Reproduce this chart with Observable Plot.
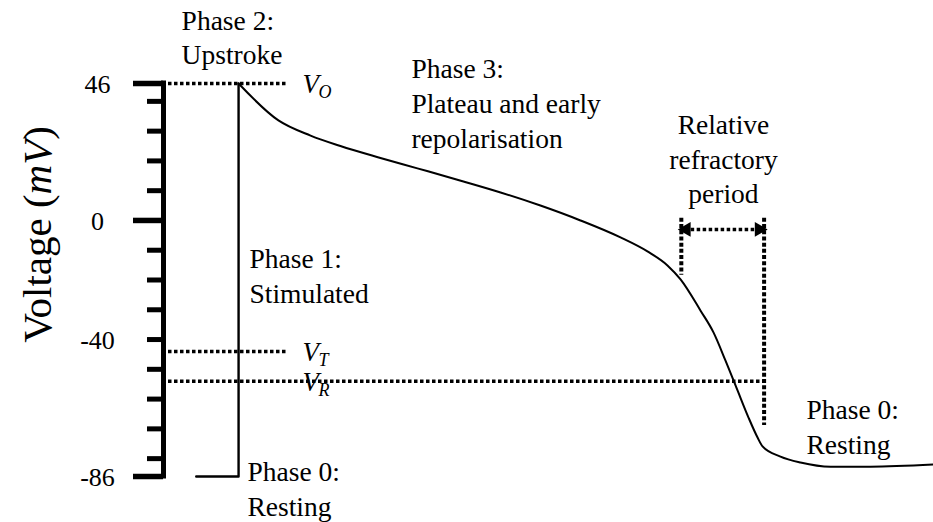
<!DOCTYPE html>
<html><head><meta charset="utf-8">
<script src="https://cdn.jsdelivr.net/npm/d3@7"></script>
<script src="https://cdn.jsdelivr.net/npm/@observablehq/plot@0.6"></script>
<style>
html,body{margin:0;padding:0;background:#fff;}
#chart svg{display:block;}
#chart svg text{font-family:"Liberation Serif", "Times New Roman", serif;}
</style></head><body><div id="chart"></div>
<script>
// Action potential trace (time in arbitrary ms units, voltage in mV)
const time    = [17, 39, 39, 59.7, 76.4, 91.9, 112.7, 131.9, 155.8, 175.1, 195.8, 216.6, 237.4, 251.4, 261.8, 268.6, 279, 285.7, 291.9, 298.2, 303.9, 308.6, 311.2, 320.5, 330.9, 346.5, 367.3, 400];
const voltage = [-86, -86, 46, 33.6, 28.5, 25.0, 21.0, 17.5, 13.1, 9.4, 5.0, 0.0, -5.7, -10.4, -15.1, -19.8, -30.3, -37.6, -47.0, -57.1, -66.2, -72.9, -75.9, -79.3, -81.3, -82.7, -82.7, -82.0];

const majorTicks = [46, 0, -86];
const minorTicks = [40, 30, 20, 10, -10, -20, -30, -40, -50, -60, -70, -80];
const tickLabels = [46, 0, -40, -86];

// threshold levels
const levelNames = ["O", "T", "R"];
const levelValues = [46, -44, -54];
const levelEnds = [64, 64, 313];

// relative refractory period
const refractoryStart = 269;
const refractoryEnd = 312;

const trace = time.map((t, i) => ({t, v: voltage[i]}));
const upstroke = trace.slice(0, 3);
const plateau = trace.slice(2);
const levels = levelNames.map((name, i) => ({name, v: levelValues[i], end: levelEnds[i]}));
const refr = [
  {t: refractoryStart, top: 0.7, bottom: -18.4},
  {t: refractoryEnd, top: 0.7, bottom: -68.9}
];

const serif = "Liberation Serif";
const fs = 27.5;
const lh = 1.26;

const chart = Plot.plot({
  width: 933,
  height: 522,
  marginLeft: 163,
  marginRight: 0,
  marginTop: 83,
  marginBottom: 46,
  x: {domain: [0, 400], axis: null},
  y: {domain: [-86, 46], axis: null},
  style: {fontFamily: serif, background: "white", color: "black", overflow: "visible"},
  marks: [
    // axis line and ticks
    Plot.ruleX([0], {y1: -86, y2: 46, stroke: "black", strokeWidth: 5, strokeLinecap: "square"}),
    Plot.ruleY(majorTicks, {x1: -15.6, x2: 0, stroke: "black", strokeWidth: 5.5}),
    Plot.ruleY(minorTicks, {x1: -8.3, x2: 0, stroke: "black", strokeWidth: 5}),
    Plot.text(tickLabels, {x: -34.3, y: d => d, text: d => String(d), fontFamily: serif, fontSize: 26, textAnchor: "middle", lineAnchor: "middle", dy: 1, fill: "black"}),
    Plot.text(["Voltage (mV)"], {x: -58.7, y: -4.7, rotate: -90, fontFamily: serif, fontSize: 41, textAnchor: "middle", lineAnchor: "bottom", fill: "black"}),

    // threshold dotted lines
    Plot.ruleY(levels, {y: "v", x1: 2.6, x2: "end", stroke: "black", strokeWidth: 3.5, strokeDasharray: "3.5,2.5"}),
    Plot.text(levels, {x: 72.2, y: "v", text: () => "V", fontFamily: serif, fontSize: 27, fontStyle: "italic", textAnchor: "start", lineAnchor: "middle", dy: 1, fill: "black"}),
    Plot.text(levels, {x: 72.2, y: "v", text: "name", fontFamily: serif, fontSize: 18, fontStyle: "italic", textAnchor: "start", lineAnchor: "middle", dx: 16, dy: 9, fill: "black"}),

    // refractory period markers
    Plot.ruleX(refr, {x: "t", y1: "top", y2: "bottom", stroke: "black", strokeWidth: 4, strokeDasharray: "4,2.2"}),
    Plot.ruleY([-3], {x1: refractoryStart + 2, x2: refractoryEnd - 2, stroke: "black", strokeWidth: 3.5, strokeDasharray: "3.5,2.5"}),
    Plot.dot([refractoryStart], {x: d => d, y: -3, symbol: "triangle", r: 5.5, fill: "black", stroke: "none", rotate: -90, dx: 5}),
    Plot.dot([refractoryEnd], {x: d => d, y: -3, symbol: "triangle", r: 5.5, fill: "black", stroke: "none", rotate: 90, dx: -5}),

    // action potential
    Plot.line(upstroke, {x: "t", y: "v", stroke: "black", strokeWidth: 2.4}),
    Plot.line(plateau, {x: "t", y: "v", stroke: "black", strokeWidth: 2, curve: "monotone-x"}),

    // phase labels
    Plot.text(["Phase 2:\nUpstroke"], {x: 9.4, y: 52.4, fontFamily: serif, fontSize: fs, lineHeight: lh, textAnchor: "start", lineAnchor: "bottom", fill: "black"}),
    Plot.text(["Phase 3:\nPlateau and early\nrepolarisation"], {x: 128.8, y: 24.5, fontFamily: serif, fontSize: fs, lineHeight: lh, textAnchor: "start", lineAnchor: "bottom", fill: "black"}),
    Plot.text(["Relative\nrefractory\nperiod"], {x: 290.9, y: 5.7, fontFamily: serif, fontSize: fs, lineHeight: lh, textAnchor: "middle", lineAnchor: "bottom", fill: "black"}),
    Plot.text(["Phase 1:\nStimulated"], {x: 44.7, y: -27.6, fontFamily: serif, fontSize: fs, lineHeight: lh, textAnchor: "start", lineAnchor: "bottom", fill: "black"}),
    Plot.text(["Phase 0:\nResting"], {x: 43.6, y: -99.1, fontFamily: serif, fontSize: fs, lineHeight: lh, textAnchor: "start", lineAnchor: "bottom", fill: "black"}),
    Plot.text(["Phase 0:\nResting"], {x: 334, y: -78.3, fontFamily: serif, fontSize: fs, lineHeight: lh, textAnchor: "start", lineAnchor: "bottom", fill: "black"})
  ]
});

// italicise "mV" in the axis label
d3.select(chart).selectAll("text").filter(function() { return this.textContent === "Voltage (mV)"; })
  .each(function() {
    const t = d3.select(this);
    t.text(null);
    t.append("tspan").text("Voltage (");
    t.append("tspan").attr("font-style", "italic").text("mV");
    t.append("tspan").text(")");
  });

document.getElementById("chart").appendChild(chart);
</script>
</body></html>
